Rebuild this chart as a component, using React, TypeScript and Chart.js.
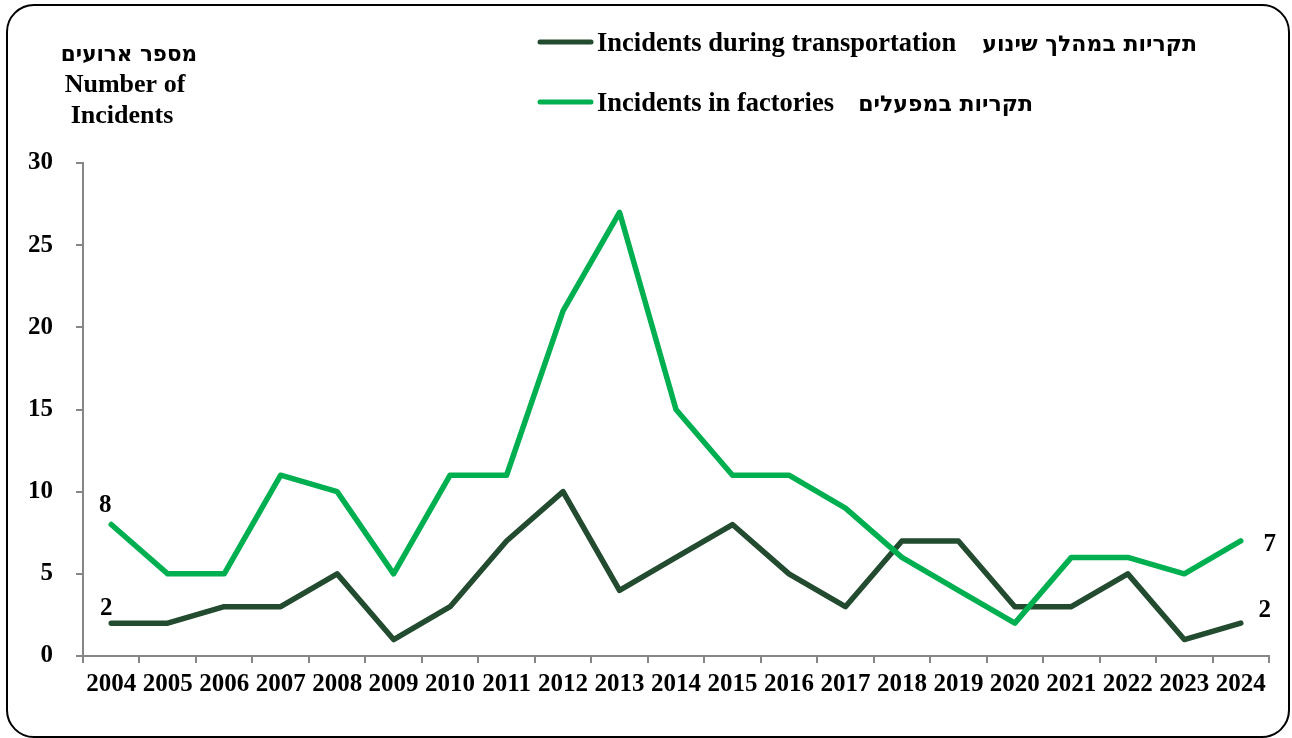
import React, { useEffect, useRef } from "react";
import { Chart, registerables } from "chart.js";

Chart.register(...registerables);

const years = ["2004", "2005", "2006", "2007", "2008", "2009", "2010", "2011", "2012", "2013", "2014", "2015", "2016", "2017", "2018", "2019", "2020", "2021", "2022", "2023", "2024"];
const transportation = [2, 2, 3, 3, 5, 1, 3, 7, 10, 4, 6, 8, 5, 3, 7, 7, 3, 3, 5, 1, 2];
const factories = [8, 5, 5, 11, 10, 5, 11, 11, 21, 27, 15, 11, 11, 9, 6, 4, 2, 6, 6, 5, 7];
const yMin = 0;
const yMax = 30;
const yStep = 5;
const legendEn = ["Incidents during transportation", "Incidents in factories"];
const legendHe = ["תקריות במהלך שינוע", "תקריות במפעלים"];
const yTitleHe = "מספר ארועים";
const yTitleEn = ["Number of", "Incidents"];

const DARK = "#224B2F";
const LIGHT = "#00B050";
const AXIS = "#868686";
const SERIF = '"Liberation Serif", "Times New Roman", serif';
const HEB = '"DejaVu Sans", "Noto Sans", sans-serif';

// label placement for first/last values: [datasetIndex, pointIndex, dx, dy]
const endLabels: [number, number, number, number][] = [
  [1, 0, -6, -13],
  [0, 0, -5, -8],
  [1, 20, 29, 10],
  [0, 20, 24, -6],
];

const decorPlugin = {
  id: "decor",
  afterDraw(chart: any) {
    const ctx = chart.ctx as CanvasRenderingContext2D;
    ctx.save();
    ctx.fillStyle = "#000";
    ctx.textBaseline = "alphabetic";

    // y-axis title
    ctx.textAlign = "center";
    ctx.font = `bold 21.5px ${HEB}`;
    ctx.fillText(yTitleHe, 129, 61);
    ctx.font = `bold 26px ${SERIF}`;
    ctx.fillText(yTitleEn[0], 125, 92);
    ctx.fillText(yTitleEn[1], 122, 123);

    // legend
    const rows = [
      { y: 42, base: 51, heRight: 1197 },
      { y: 102, base: 111, heRight: 1033 },
    ];
    const colors = [DARK, LIGHT];
    rows.forEach((r, i) => {
      ctx.strokeStyle = colors[i];
      ctx.lineWidth = 5;
      ctx.lineCap = "round";
      ctx.beginPath();
      ctx.moveTo(540, r.y);
      ctx.lineTo(591, r.y);
      ctx.stroke();
      ctx.textAlign = "left";
      ctx.font = `bold 26.5px ${SERIF}`;
      ctx.fillText(legendEn[i], 597, r.base);
      ctx.textAlign = "right";
      ctx.font = `bold 22px ${HEB}`;
      ctx.fillText(legendHe[i], r.heRight, r.base);
    });

    // data labels
    ctx.textAlign = "center";
    ctx.font = `bold 25px ${SERIF}`;
    endLabels.forEach(([ds, idx, dx, dy]) => {
      const meta = chart.getDatasetMeta(ds);
      const pt = meta.data[idx];
      const v = chart.data.datasets[ds].data[idx];
      ctx.fillText(String(v), pt.x + dx, pt.y + dy);
    });
    ctx.restore();
  },
};

export default function App() {
  const ref = useRef<HTMLCanvasElement | null>(null);

  useEffect(() => {
    if (!ref.current) return;
    const tickFont = { family: SERIF, size: 25, weight: "bold" as const };
    const chart = new Chart(ref.current, {
      type: "line",
      data: {
        labels: years,
        datasets: [
          {
            label: legendEn[0],
            data: transportation,
            borderColor: DARK,
            backgroundColor: DARK,
            borderWidth: 5.5,
            pointRadius: 0,
            tension: 0,
            borderCapStyle: "round",
            borderJoinStyle: "round",
            order: 1,
          },
          {
            label: legendEn[1],
            data: factories,
            borderColor: LIGHT,
            backgroundColor: LIGHT,
            borderWidth: 5.5,
            pointRadius: 0,
            tension: 0,
            borderCapStyle: "round",
            borderJoinStyle: "round",
            order: 0,
          },
        ],
      },
      options: {
        animation: false,
        responsive: false,
        maintainAspectRatio: false,
        layout: { padding: { top: 163, right: 23, left: 0, bottom: 0 } },
        plugins: { legend: { display: false }, tooltip: { enabled: false }, title: { display: false } },
        scales: {
          x: {
            offset: true,
            grid: { offset: true, drawOnChartArea: false, drawTicks: true, tickLength: 7, color: AXIS, lineWidth: 2 },
            border: { color: AXIS, width: 2 },
            ticks: { font: tickFont, color: "#000", padding: 7, maxRotation: 0, autoSkip: false },
            afterFit: (s: any) => {
              s.height = 82;
            },
          },
          y: {
            min: yMin,
            max: yMax,
            grid: { drawOnChartArea: false, drawTicks: true, tickLength: 7, color: AXIS, lineWidth: 2 },
            border: { color: AXIS, width: 2 },
            ticks: { stepSize: yStep, font: tickFont, color: "#000", padding: 23 },
            afterFit: (s: any) => {
              s.width = 83;
            },
          },
        },
      },
      plugins: [decorPlugin],
    });
    return () => chart.destroy();
  }, []);

  return (
    <div style={{ position: "absolute", left: 0, top: 0, width: 1292, height: 738, background: "#fff", overflow: "hidden" }}>
      <canvas ref={ref} width={1292} height={738} style={{ position: "absolute", left: 0, top: 0, width: 1292, height: 738 }} />
      <div
        style={{
          position: "absolute",
          left: 6,
          top: 4,
          width: 1284,
          height: 734,
          boxSizing: "border-box",
          border: "2px solid #000",
          borderRadius: 28,
          pointerEvents: "none",
        }}
      />
    </div>
  );
}
